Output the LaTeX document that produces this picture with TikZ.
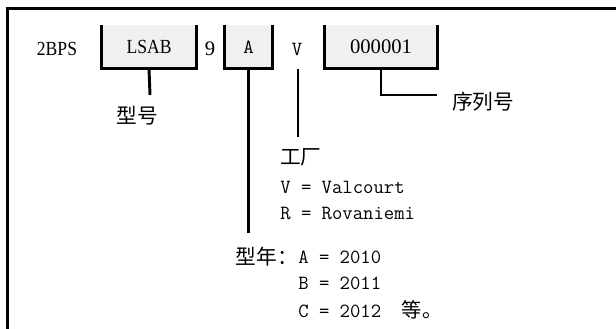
\documentclass[tikz,border=0pt]{standalone}
\usepackage{fontspec}
\setmainfont{Liberation Serif}
\newfontfamily\narrowserif[FakeStretch=0.88]{Liberation Serif}
\newfontfamily\cjk{Noto Sans CJK SC}
\definecolor{boxgray}{HTML}{F0F0F0}
\begin{document}
\begin{tikzpicture}[x=0.75pt, y=-0.75pt,
  every node/.style={inner sep=0pt},
  serif/.style={font=\fontsize{15}{18}\narrowserif},
  digits/.style={font=\fontsize{15.5}{18}\selectfont},
  code/.style={font=\fontsize{15.1}{18}\ttfamily},
  hanzi/.style={font=\fontsize{15.5}{18}\cjk},
  field/.style={serif, fill=boxgray, minimum height=32.25pt},
  bar/.style={line width=2.2pt}]
  \useasboundingbox (0,0) rectangle (616,328);
  \draw[bar] (7.5,330) -- (7.5,8.7) -- (618,8.7); % frame, open at right and bottom

  % the code itself
  \node[serif] (prefix) at (57,49) {2BPS};
  \node[field, minimum width=70.5pt] (model) at (149,47) {LSAB};
  \node[digits] (digit) at (210,49) {9};
  \node[field, code, minimum width=35.25pt] (year) at (248.5,47) {A};
  \node[code] (plant) at (297,49) {V};
  \node[field, digits, minimum width=84pt] (serial) at (381,47) {000001};
  \foreach \b in {model,year,serial}
    \draw[bar] (\b.north west) |- (\b.south east) -- (\b.north east);

  % model
  \coordinate (modelend) at (150,95);
  \draw[bar] (model.south) -- (modelend);
  \node[hanzi] (modellbl) at (137,116) {型号};

  % serial number
  \coordinate (serialend) at (437,95);
  \draw[bar] (serial.south) |- (serialend);
  \node[hanzi, anchor=west] (seriallbl) at (452,102) {序列号};

  % plant
  \coordinate (planttop) at (298,69);
  \coordinate (plantend) at (298,137);
  \draw[bar] (planttop) -- (plantend);
  \node[hanzi, anchor=west] (plantlbl) at (280,157) {工厂};
  \node[code, anchor=west] (plantv) at (280,187) {V = Valcourt};
  \node[code, anchor=west] (plantr) at (280,213) {R = Rovaniemi};

  % model year
  \coordinate (yearend) at (248.5,233);
  \draw[bar] (year.south) -- (yearend);
  \node[code, anchor=west] (yeara) at (298,257) {A = 2010};
  \node[hanzi, anchor=east] (yearlbl) at (yeara.west) {型年：};
  \node[code, anchor=west] (yearb) at (298,283) {B = 2011};
  \node[code, anchor=west] (yearc) at (298,310) {C = 2012\ \ {\cjk 等。}};
\end{tikzpicture}
\end{document}
